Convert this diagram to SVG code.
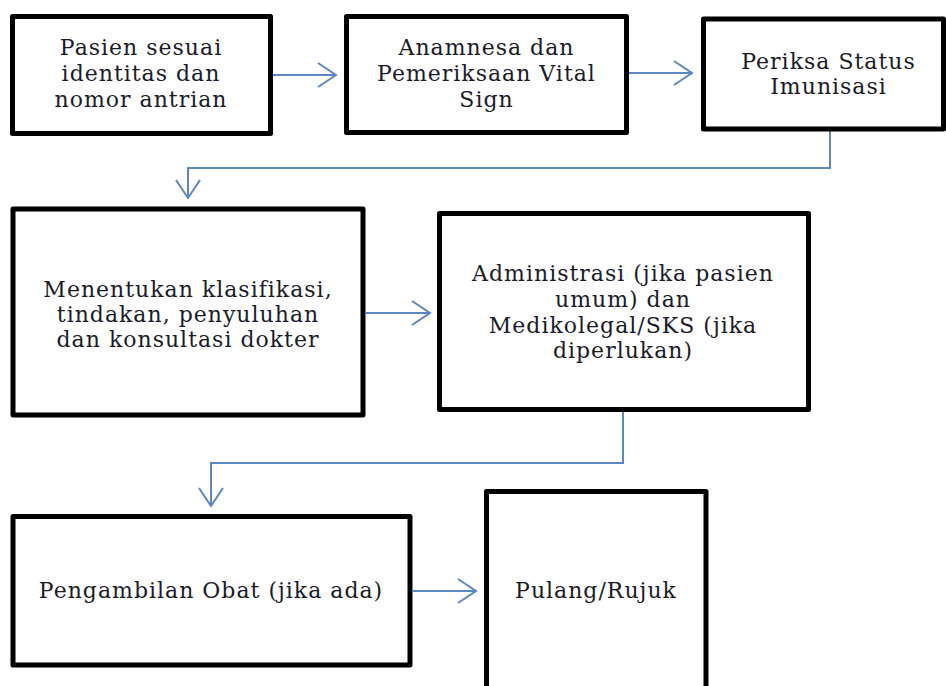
<svg xmlns="http://www.w3.org/2000/svg" width="946" height="686" viewBox="0 0 946 686">
<defs>
<style>
.box{fill:#fff;stroke:#000;stroke-width:5;stroke-linejoin:round}
.t{font-family:"DejaVu Serif","Liberation Serif",serif;font-size:22px;letter-spacing:1px;fill:#1c1c2a;text-anchor:middle}
.c{fill:none;stroke:#5b87c2;stroke-width:2}
</style>
<marker id="ah" viewBox="0 0 22 26" refX="20" refY="13" markerWidth="22" markerHeight="26" markerUnits="userSpaceOnUse" orient="auto">
<path d="M2,1 L20,13 L2,25" fill="none" stroke="#5b87c2" stroke-width="2"/>
</marker>
</defs>
<rect width="946" height="686" fill="#fff"/>
<g id="connectors">
<path class="c" d="M273,75 L336,75" marker-end="url(#ah)"/>
<path class="c" d="M629,73 L692,73" marker-end="url(#ah)"/>
<path class="c" d="M830,131 L830,168 L188,168 L188,198" marker-end="url(#ah)"/>
<path class="c" d="M366,313 L430,313" marker-end="url(#ah)"/>
<path class="c" d="M623,412 L623,463 L211,463 L211,506" marker-end="url(#ah)"/>
<path class="c" d="M413,591 L476,591" marker-end="url(#ah)"/>
</g>
<g id="n1">
<rect class="box" x="12.5" y="16.5" width="258" height="117"/>
<text class="t" x="141" y="55">Pasien sesuai</text>
<text class="t" x="141" y="81">identitas dan</text>
<text class="t" x="141" y="107">nomor antrian</text>
</g>
<g id="n2">
<rect class="box" x="346.5" y="16.5" width="280" height="116"/>
<text class="t" x="486.5" y="55">Anamnesa dan</text>
<text class="t" x="486.5" y="81">Pemeriksaan Vital</text>
<text class="t" x="486.5" y="107">Sign</text>
</g>
<g id="n3">
<rect class="box" x="703.5" y="19" width="240" height="110"/>
<text class="t" x="828.5" y="69">Periksa Status</text>
<text class="t" x="828.5" y="94">Imunisasi</text>
</g>
<g id="n4">
<rect class="box" x="13" y="209" width="350" height="206"/>
<text class="t" x="188" y="297">Menentukan klasifikasi,</text>
<text class="t" x="188" y="322">tindakan, penyuluhan</text>
<text class="t" x="188" y="347">dan konsultasi dokter</text>
</g>
<g id="n5">
<rect class="box" x="439.5" y="213.5" width="369" height="196"/>
<text class="t" x="623" y="281">Administrasi (jika pasien</text>
<text class="t" x="623" y="307">umum) dan</text>
<text class="t" x="623" y="333">Medikolegal/SKS (jika</text>
<text class="t" x="623" y="358">diperlukan)</text>
</g>
<g id="n6">
<rect class="box" x="13" y="516.5" width="397" height="148.5"/>
<text class="t" x="211" y="598">Pengambilan Obat (jika ada)</text>
</g>
<g id="n7">
<rect class="box" x="486.5" y="491.5" width="219.5" height="210"/>
<text class="t" x="596" y="598">Pulang/Rujuk</text>
</g>
</svg>
